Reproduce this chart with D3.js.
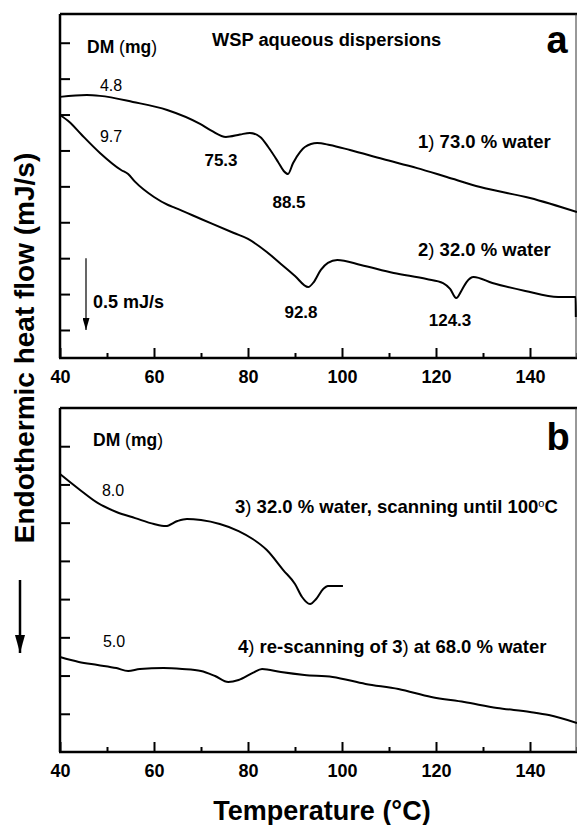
<!DOCTYPE html>
<html><head><meta charset="utf-8">
<script src="https://cdn.jsdelivr.net/npm/d3@7"></script>
<style>
html,body{margin:0;padding:0;background:#fff;}
svg{display:block;font-family:"Liberation Sans",Arial,Helvetica,sans-serif;}
</style></head>
<body>
<script>
// ---------- data (temperature °C, heat flow mJ/s, arbitrary offset) ----------
const xMajorTicks = [40, 60, 80, 100, 120, 140];
const xMinorTicks = [50, 70, 90, 110, 130, 150];
const yTicksA = [0.25, 0.5, 0.75, 1.0, 1.25, 1.5, 1.75, 2.0, 2.25];
const yTicksB = [0.25, 0.5, 0.75, 1.0, 1.25, 1.5, 1.75, 2.0];

// 1) 73.0 % water, DM 4.8 mg
const curve1T = [40, 45.7, 48.5, 55.5, 62.8, 69.8, 72.3, 75.3, 78.3, 80.4, 82.6, 84.3, 86.4, 87.6, 88.5, 89.6, 91.1, 92.1, 94.7, 97.4, 101.7, 108.7, 116, 122.3, 129.4, 140, 150];
const curve1V = [1.873, 1.886, 1.880, 1.838, 1.782, 1.685, 1.636, 1.594, 1.611, 1.622, 1.594, 1.524, 1.420, 1.357, 1.336, 1.413, 1.490, 1.524, 1.552, 1.538, 1.503, 1.440, 1.377, 1.315, 1.245, 1.169, 1.071];

// 2) 32.0 % water, DM 9.7 mg
const curve2T = [40, 42, 44.5, 48.5, 53, 54.5, 56, 60, 63, 64.5, 70, 77, 80, 84, 87, 90, 92.8, 94, 95.5, 97, 99, 104, 111, 118, 121.5, 123, 124.3, 125.5, 126.5, 128, 132, 139, 146, 149.7, 149.75];
const curve2V = [1.747, 1.698, 1.613, 1.483, 1.364, 1.336, 1.281, 1.176, 1.120, 1.100, 1.023, 0.925, 0.884, 0.793, 0.710, 0.626, 0.549, 0.584, 0.668, 0.717, 0.737, 0.703, 0.647, 0.605, 0.577, 0.536, 0.473, 0.529, 0.584, 0.619, 0.577, 0.522, 0.480, 0.480, 0.341];

// 3) 32.0 % water, scanning until 100 °C, DM 8.0 mg
const curve3T = [40, 44, 48, 52, 56, 60, 62.5, 65, 67, 70, 74, 78, 81, 84, 87.5, 90, 91.5, 93.2, 94.5, 96, 97, 100.2];
const curve3V = [1.818, 1.720, 1.629, 1.570, 1.530, 1.491, 1.478, 1.511, 1.524, 1.517, 1.491, 1.445, 1.393, 1.321, 1.190, 1.099, 1.014, 0.968, 1.001, 1.066, 1.086, 1.086];

// 4) re-scanning of 3) at 68.0 % water, DM 5.0 mg
const curve4T = [40, 44, 48, 52, 54.5, 57, 62, 66, 70, 73, 75.8, 78, 81, 83, 87, 92, 98, 105, 112, 119, 126, 133, 140, 144, 150];
const curve4V = [0.621, 0.589, 0.569, 0.549, 0.530, 0.543, 0.549, 0.543, 0.530, 0.497, 0.458, 0.471, 0.517, 0.543, 0.523, 0.504, 0.491, 0.445, 0.412, 0.360, 0.327, 0.288, 0.262, 0.242, 0.190];

// ---------- layout ----------
const W = 577, H = 825;
const FONT = '"Liberation Sans",Arial,Helvetica,sans-serif';
const svg = d3.select("body").append("svg").attr("width", W).attr("height", H);

const x = d3.scaleLinear().domain([40, 150]).range([60, 577]);
const panels = [
  {top: 14, bottom: 358, domain: [0.055, 2.45], ticks: yTicksA,
   curves: [[curve1T, curve1V], [curve2T, curve2V]]},
  {top: 408, bottom: 752, domain: [0, 2.25], ticks: yTicksB,
   curves: [[curve3T, curve3V], [curve4T, curve4V]]}
];

panels.forEach(p => {
  const y = d3.scaleLinear().domain(p.domain).range([p.bottom, p.top]);
  p.y = y;
  const g = svg.append("g");
  const ax = g.append("g").attr("transform", `translate(0,${p.bottom})`)
    .call(d3.axisBottom(x).tickValues(xMajorTicks).tickSizeInner(-10).tickSizeOuter(0).tickPadding(12).tickFormat(d3.format("d")));
  ax.select(".domain").remove();
  ax.selectAll(".tick line").attr("stroke", "#000").attr("stroke-width", 2);
  ax.selectAll(".tick text").attr("font-family", FONT).attr("font-size", 18).attr("font-weight", "bold").attr("fill", "#000");
  const axm = g.append("g").attr("transform", `translate(0,${p.bottom})`)
    .call(d3.axisBottom(x).tickValues(xMinorTicks).tickSizeInner(-5).tickSizeOuter(0).tickFormat(""));
  axm.select(".domain").remove();
  axm.selectAll(".tick line").attr("stroke", "#000").attr("stroke-width", 2);
  const ay = g.append("g").attr("transform", `translate(60,0)`)
    .call(d3.axisLeft(y).tickValues(p.ticks).tickSizeInner(-10).tickSizeOuter(0).tickFormat(""));
  ay.select(".domain").remove();
  ay.selectAll(".tick line").attr("stroke", "#000").attr("stroke-width", 2);
  // frame
  g.append("line").attr("x1", 60).attr("x2", 577).attr("y1", p.top).attr("y2", p.top).attr("stroke", "#000").attr("stroke-width", 2.5);
  g.append("line").attr("x1", 59).attr("x2", 577).attr("y1", p.bottom).attr("y2", p.bottom).attr("stroke", "#000").attr("stroke-width", 2.5);
  g.append("line").attr("x1", 60).attr("x2", 60).attr("y1", p.top).attr("y2", p.bottom).attr("stroke", "#000").attr("stroke-width", 2.5);
  g.append("line").attr("x1", 576).attr("x2", 576).attr("y1", p.top).attr("y2", p.bottom).attr("stroke", "#333").attr("stroke-width", 1);
  // curves
  const line = d3.line().x(d => x(d[0])).y(d => y(d[1])).curve(d3.curveMonotoneX);
  p.curves.forEach(([T, V]) => {
    g.append("path").datum(T.map((t, i) => [t, V[i]]))
      .attr("d", line).attr("fill", "none").attr("stroke", "#000").attr("stroke-width", 2).attr("stroke-linejoin", "round");
  });
});

// ---------- text ----------
function txt(xp, yp, s, size, weight, anchor) {
  return svg.append("text").attr("x", xp).attr("y", yp).attr("font-family", FONT)
    .attr("font-size", size).attr("font-weight", weight || "bold")
    .attr("text-anchor", anchor || "start").attr("fill", "#000").text(s);
}
function lbl(xp, yp, parts, size) {
  const t = svg.append("text").attr("x", xp).attr("y", yp).attr("font-family", FONT)
    .attr("font-size", size).attr("fill", "#000");
  parts.forEach(pt => {
    const ts = t.append("tspan").text(pt[0]).attr("font-weight", pt[1] ? "normal" : "bold");
    if (pt[2]) ts.attr("font-size", pt[2]).attr("baseline-shift", "super");
  });
  return t;
}

// panel a
lbl(87, 53, [["DM "], ["(", 1], ["mg"], [")", 1]], 17.5);
txt(212, 46, "WSP aqueous dispersions", 18.3);
txt(557, 53, "a", 38, "bold", "middle");
txt(111, 91, "4.8", 16, "normal", "middle");
txt(111, 142, "9.7", 16, "normal", "middle");
txt(221, 166, "75.3", 17, "bold", "middle");
txt(289, 208, "88.5", 17, "bold", "middle");
txt(301, 318, "92.8", 17, "bold", "middle");
txt(450, 326, "124.3", 17, "bold", "middle");
lbl(418, 148, [["1"], [")", 1], [" 73.0 % water"]], 18.5);
lbl(418, 256, [["2"], [")", 1], [" 32.0 % water"]], 18.5);
txt(93, 308, "0.5 mJ/s", 18);

// panel b
lbl(93, 446, [["DM "], ["(", 1], ["mg"], [")", 1]], 17.5);
txt(558, 450, "b", 38, "bold", "middle");
txt(113, 496, "8.0", 16, "normal", "middle");
txt(114, 647, "5.0", 16, "normal", "middle");
lbl(235, 513, [["3"], [")", 1], [" 32.0 % water, scanning until 100"], ["o", 1, 11], ["C"]], 18.5);
lbl(238, 653, [["4"], [")", 1], [" re-scanning of 3"], [")", 1], [" at 68.0 % water"]], 18.5);

// axis titles
txt(322, 820, "Temperature (°C)", 27, "bold", "middle");
svg.append("text").attr("transform", "translate(34,348) rotate(-90)")
  .attr("font-family", FONT).attr("font-size", 28).attr("font-weight", "bold")
  .attr("text-anchor", "middle").attr("fill", "#000").text("Endothermic heat flow (mJ/s)");

// arrows
const defs = svg.append("defs");
defs.append("marker").attr("id", "ah").attr("viewBox", "0 0 10 10").attr("refX", 10).attr("refY", 5)
  .attr("markerWidth", 12).attr("markerHeight", 7).attr("markerUnits", "userSpaceOnUse").attr("orient", "auto")
  .attr("preserveAspectRatio", "none")
  .append("path").attr("d", "M0,0 L10,5 L0,10 Z").attr("fill", "#000");
defs.append("marker").attr("id", "ahBig").attr("viewBox", "0 0 10 10").attr("refX", 10).attr("refY", 5)
  .attr("markerWidth", 18).attr("markerHeight", 10).attr("markerUnits", "userSpaceOnUse").attr("orient", "auto")
  .attr("preserveAspectRatio", "none")
  .append("path").attr("d", "M0,0 L10,5 L0,10 Z").attr("fill", "#000");
// scale arrow (0.5 mJ/s) in panel a
const ya = panels[0].y;
svg.append("line").attr("x1", 86).attr("x2", 86).attr("y1", ya(0.75)).attr("y2", ya(0.25))
  .attr("stroke", "#000").attr("stroke-width", 1.2).attr("marker-end", "url(#ah)");
// endothermic direction arrow
svg.append("line").attr("x1", 20).attr("x2", 20).attr("y1", 580).attr("y2", 653)
  .attr("stroke", "#000").attr("stroke-width", 2.5).attr("marker-end", "url(#ahBig)");
</script>
</body></html>
